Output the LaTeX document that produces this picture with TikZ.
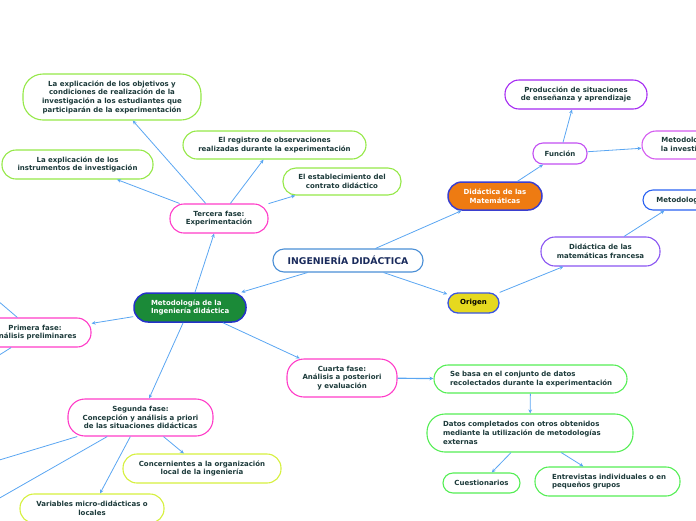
\documentclass[tikz,border=0pt]{standalone}
\usepackage{fontspec}
\setmainfont{DejaVu Sans}
\usetikzlibrary{arrows.meta}
\definecolor{txt}{HTML}{1C3A3A}
\definecolor{navy}{HTML}{1A2B5C}
\definecolor{link}{HTML}{5AA6F2}
\definecolor{ingb}{HTML}{4A8FD6}
\definecolor{metfill}{HTML}{1B8A38}
\definecolor{metdraw}{HTML}{2432C8}
\definecolor{orangef}{HTML}{EE7B12}
\definecolor{oranged}{HTML}{3A3FD0}
\definecolor{yellowf}{HTML}{E6D91F}
\definecolor{yellowd}{HTML}{3A55E0}
\definecolor{francesa}{HTML}{8A55F2}
\definecolor{metblue}{HTML}{2A62F2}
\definecolor{funcion}{HTML}{C24FF2}
\definecolor{produccion}{HTML}{A52AF2}
\definecolor{metinv}{HTML}{D45CF0}
\definecolor{phase}{HTML}{FF3CC8}
\definecolor{lgreen}{HTML}{95E848}
\definecolor{ygreen}{HTML}{D6F03E}
\definecolor{bgreen}{HTML}{55EE55}
\newcommand{\nf}{\fontsize{7}{8.7}\selectfont\bfseries}
\newcommand{\tf}{\fontsize{9.3}{11}\selectfont\bfseries}
\tikzset{
  bx/.style={draw, line width=1.1pt, rounded corners=11pt, fill=white, text=txt, font=\nf, align=center, inner sep=0pt},
  wh/.style 2 args={minimum width=#1pt, minimum height=#2pt},
  rc/.style={rounded corners=#1pt},
  lft/.style={align=left, text width=#1pt},
  con/.style={draw=link, line width=0.8pt, -{Stealth[length=4pt,width=3.6pt]}},
}
\begin{document}
\begin{tikzpicture}[x=1pt,y=-1pt]
\useasboundingbox (0,0) rectangle (696,520);
\clip (0,0) rectangle (696,520);
% central
\node[bx, wh={150}{23}, draw=ingb, font=\tf, text=navy] (ing) at (348,260.5) {INGENIERÍA DIDÁCTICA};
\node[bx, wh={112}{29}, rc=14, fill=metfill, draw=metdraw, line width=1.5pt, text=white, lft=78] (met) at (190,307.5) {\mbox{Metodología de la}\\\mbox{Ingeniería didáctica}};
\node[bx, wh={94}{28}, rc=14, fill=orangef, draw=oranged, line width=1.5pt, text=white] (dmat) at (495,196) {Didáctica de las\\Matemáticas};
\node[bx, wh={51}{20}, rc=10, fill=yellowf, draw=yellowd, line width=1.3pt, text=black] (orig) at (473.5,303) {Origen};
% right side
\node[bx, wh={119}{29}, rc=14, draw=francesa] (fran) at (600.5,251.5) {Didáctica de las\\matemáticas francesa};
\node[bx, wh={76}{20}, rc=10, draw=metblue] (mblue) at (681,200) {Metodología};
\node[bx, wh={54}{21}, rc=10, draw=funcion] (func) at (560,153.5) {Función};
\node[bx, wh={142}{29}, rc=14, draw=produccion] (prod) at (576,94.5) {Producción de situaciones\\de enseñanza y aprendizaje};
\node[bx, wh={100}{28}, rc=14, draw=metinv] (minv) at (692,145) {Metodología de\\la investigación};
% third phase
\node[bx, wh={98}{29}, rc=14, draw=phase] (terc) at (219,218.5) {Tercera fase:\\Experimentación};
\node[bx, wh={178}{46}, rc=20, draw=lgreen] (obj) at (112,97) {La explicación de los objetivos y\\condiciones de realización de la\\investigación a los estudiantes que\\participarán de la experimentación};
\node[bx, wh={183}{28}, rc=14, draw=lgreen] (reg) at (274.5,145) {El registro de observaciones\\realizadas durante la experimentación};
\node[bx, wh={151}{29}, rc=14, draw=lgreen] (inst) at (77.5,164.5) {La explicación de los\\instrumentos de investigación};
\node[bx, wh={118}{27}, rc=13, draw=lgreen] (cont) at (342,181.5) {El establecimiento del\\contrato didáctico};
% first and second phase
\node[bx, wh={112}{29}, rc=14, draw=phase] (prim) at (35,332.5) {Primera fase:\\Análisis preliminares};
\node[bx, wh={145}{37}, rc=17, draw=phase] (seg) at (140.5,417.5) {Segunda fase:\\Concepción y análisis a priori\\de las situaciones didácticas};
\node[bx, wh={158}{29}, rc=14, draw=ygreen] (conc) at (202,468.5) {Concernientes a la organización\\local de la ingeniería};
\node[bx, wh={144}{29}, rc=14, draw=ygreen] (vari) at (92,508.5) {Variables micro-didácticas o\\locales};
% fourth phase
\node[bx, wh={110}{38}, rc=17, draw=phase] (cuar) at (342,378) {Cuarta fase:\\Análisis a posteriori\\y evaluación};
\node[bx, wh={193}{28}, rc=14, draw=bgreen, lft=161] (base) at (530.5,379) {\mbox{Se basa en el conjunto de datos}\\\mbox{recolectados durante la experimentación}};
\node[bx, wh={206}{38}, rc=18, draw=bgreen, lft=174] (dat) at (530,433) {\mbox{Datos completados con otros obtenidos}\\\mbox{mediante la utilización de metodologías}\\\mbox{externas}};
\node[bx, wh={77}{20}, rc=10, draw=bgreen] (cues) at (481.5,483) {Cuestionarios};
\node[bx, wh={145}{29}, rc=14, draw=bgreen, lft=111] (entr) at (607.5,481.5) {\mbox{Entrevistas individuales o en}\\\mbox{pequeños grupos}};
% off-canvas ends
\coordinate (p1) at (-50,260);
\coordinate (p2) at (-80,405);
\coordinate (s1) at (-200,520);
\coordinate (s2) at (-200,612);
% connectors
\draw[con] (ing) -- (met);
\draw[con] (ing) -- (dmat);
\draw[con] (ing) -- (orig);
\draw[con] (orig) -- (fran);
\draw[con] (fran) -- (mblue);
\draw[con] (dmat) -- (func);
\draw[con] (func) -- (prod);
\draw[con] (func) -- (minv);
\draw[con] (met) -- (terc);
\draw[con] (met) -- (prim);
\draw[con] (met) -- (seg);
\draw[con] (met) -- (cuar);
\draw[con] (terc) -- (obj);
\draw[con] (terc) -- (inst);
\draw[con] (terc) -- (reg);
\draw[con] (terc) -- (cont);
\draw[con] (prim) -- (p1);
\draw[con] (prim) -- (p2);
\draw[con] (seg) -- (s1);
\draw[con] (seg) -- (s2);
\draw[con] (seg) -- (conc);
\draw[con] (seg) -- (vari);
\draw[con, line width=1.2pt] (cuar) -- (base);
\draw[con] (base) -- (dat);
\draw[con] (dat) -- (cues);
\draw[con] (dat) -- (entr);
\end{tikzpicture}
\end{document}
